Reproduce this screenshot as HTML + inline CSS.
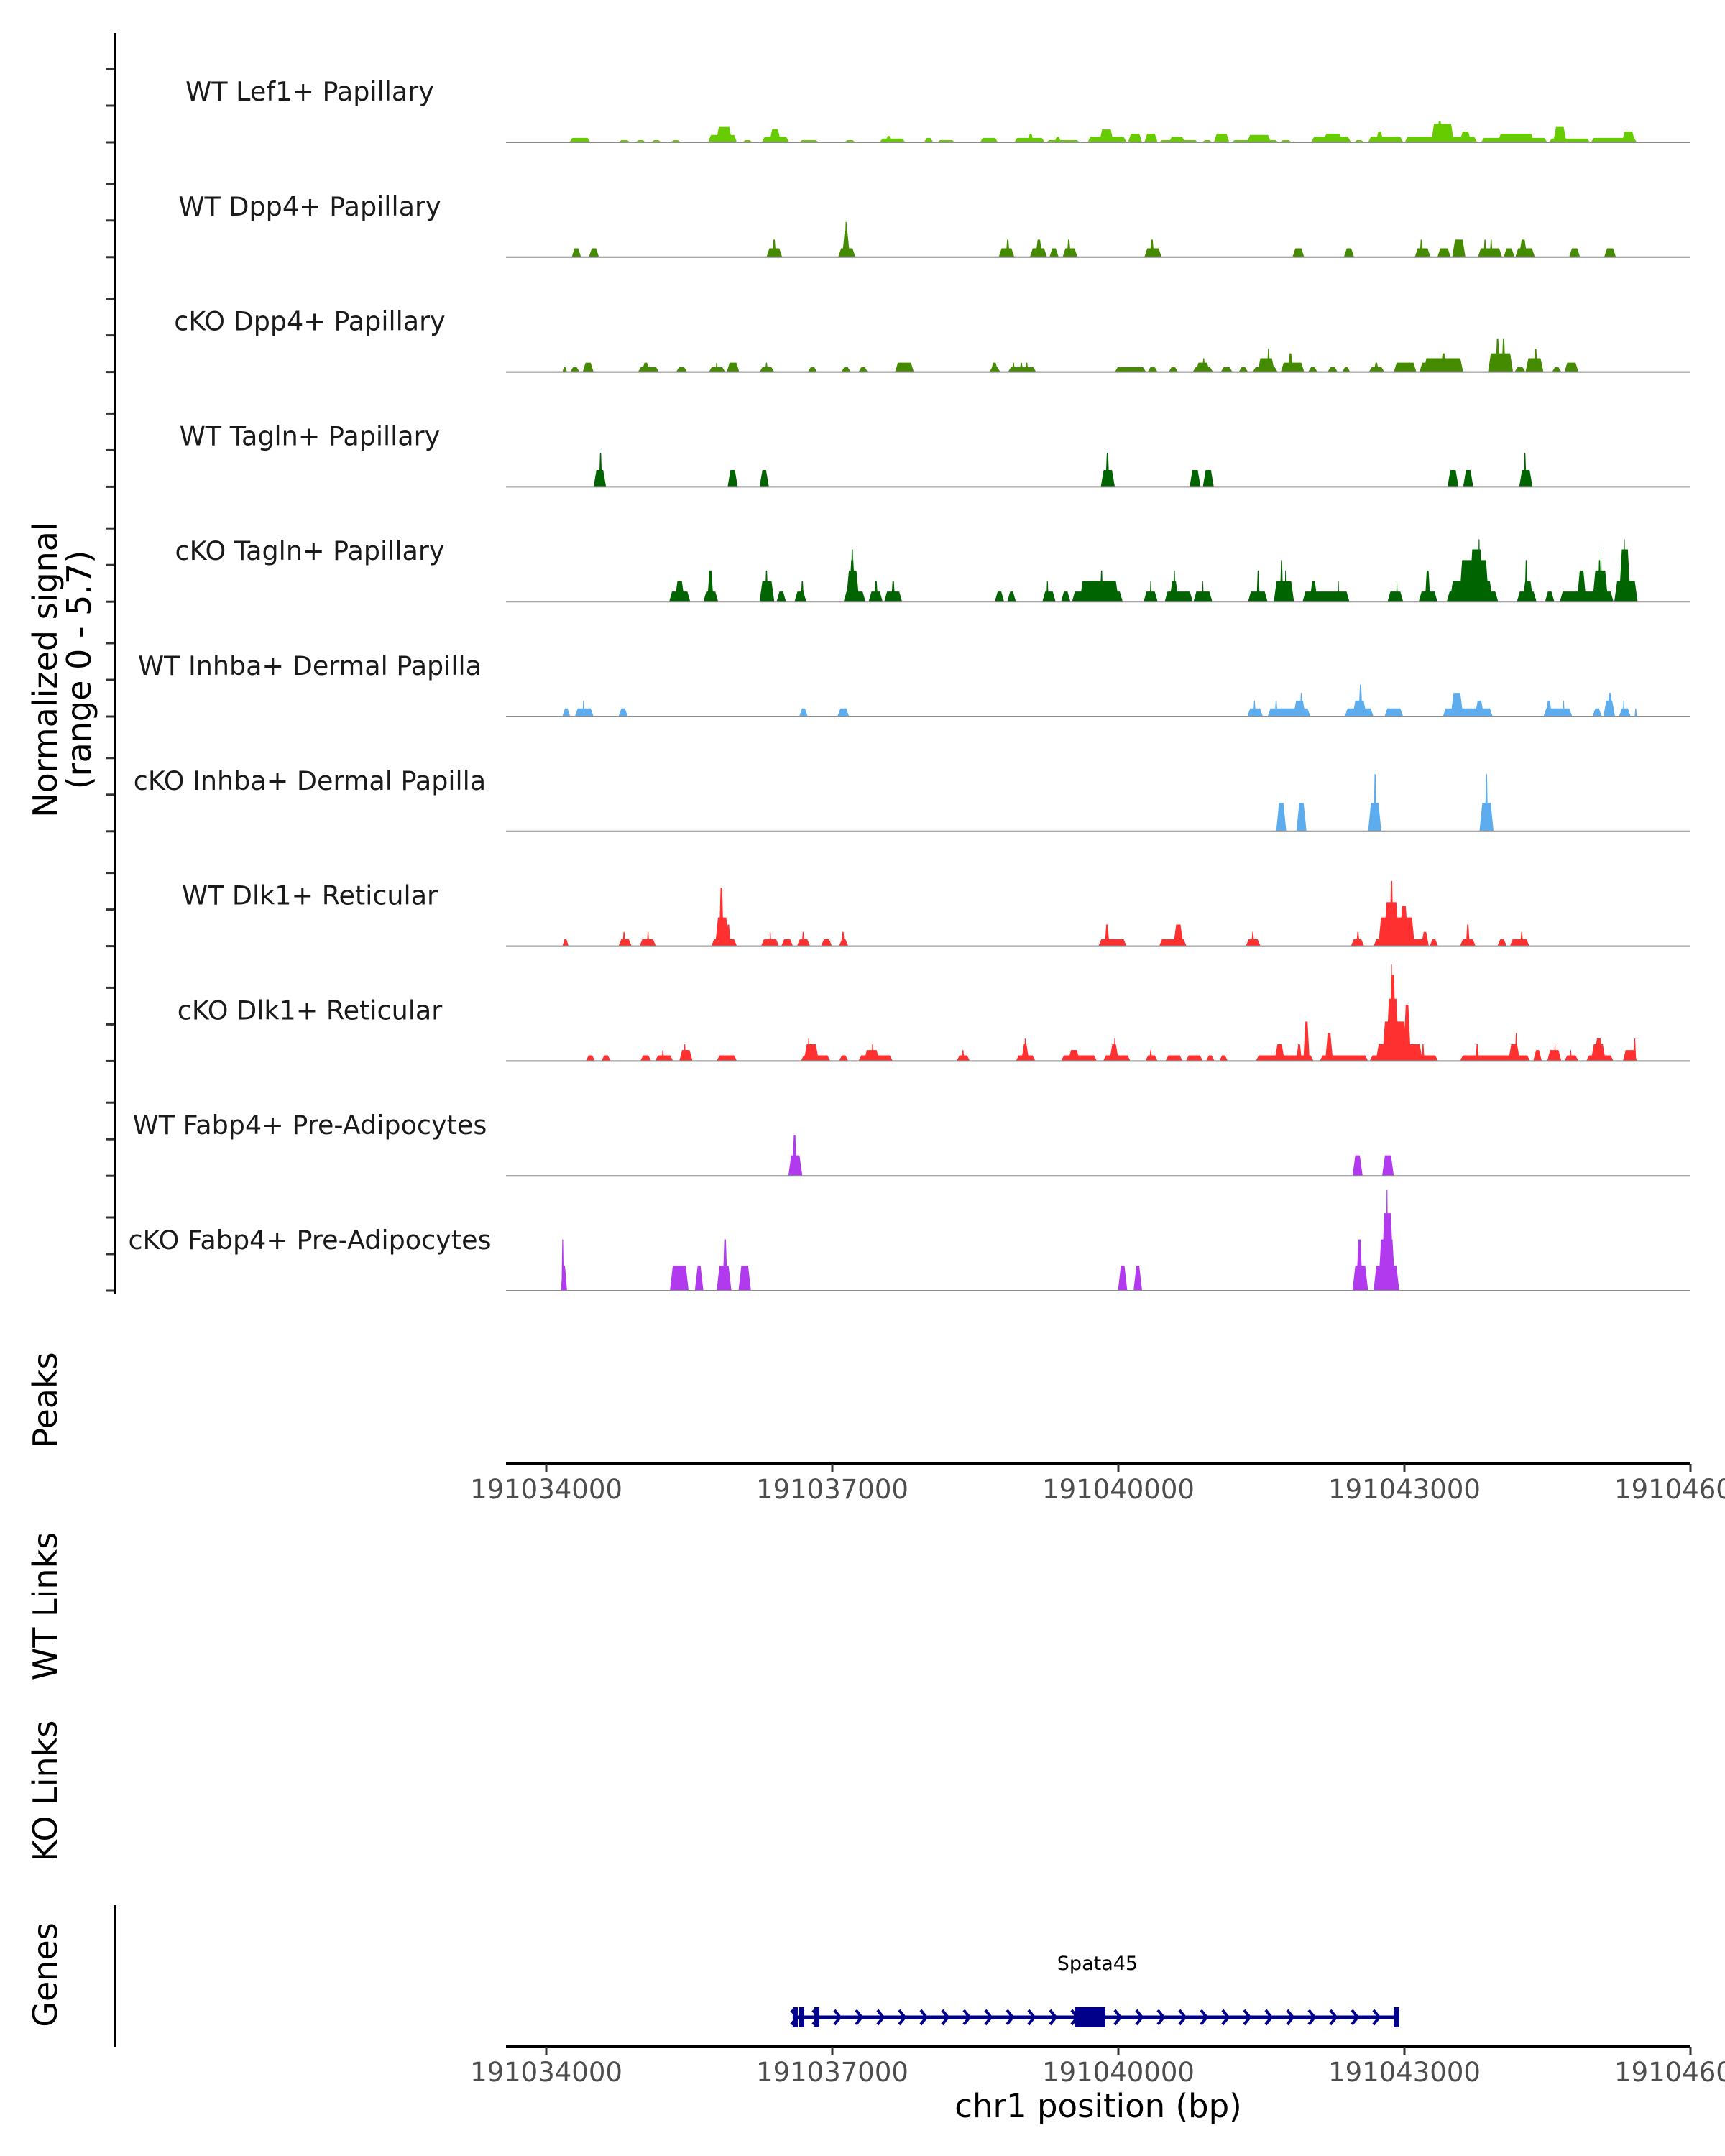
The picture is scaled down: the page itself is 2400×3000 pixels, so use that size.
<!DOCTYPE html>
<html><head><meta charset="utf-8"><style>
html,body{margin:0;padding:0;background:#fff;}
svg{display:block;font-family:"DejaVu Sans","Liberation Sans",sans-serif;}
</style></head><body>
<svg id="chart" xmlns="http://www.w3.org/2000/svg" width="2400" height="3000" viewBox="0 0 2400 3000">
<rect width="2400" height="3000" fill="#fff"/>
<g id="tracks"></g>
<g id="leftaxis"></g>
<text transform="translate(79,932) rotate(-90)" text-anchor="middle" font-size="46" fill="#000">Normalized signal</text>
<text transform="translate(126,932) rotate(-90)" text-anchor="middle" font-size="46" fill="#000">(range 0 - 5.7)</text>
<text transform="translate(79,1948) rotate(-90)" text-anchor="middle" font-size="46" fill="#000">Peaks</text>
<text transform="translate(79,2235) rotate(-90)" text-anchor="middle" font-size="46" fill="#000">WT Links</text>
<text transform="translate(79,2492) rotate(-90)" text-anchor="middle" font-size="46" fill="#000">KO Links</text>
<text transform="translate(79,2748) rotate(-90)" text-anchor="middle" font-size="46" fill="#000">Genes</text>
<line x1="160" y1="2651" x2="160" y2="2848" stroke="#000" stroke-width="4"/>
<g id="xaxis1"></g>
<g id="xaxis2"></g>
<g id="gene"></g>
<text x="1528" y="2946" text-anchor="middle" font-size="45" fill="#000">chr1 position (bp)</text>
</svg>
<script>
// Data: blocks [startOffsetBp, endOffsetBp, signal] relative to chromStart
const chromStart = 191034000;
const trackNames = ["WT Lef1+ Papillary","WT Dpp4+ Papillary","cKO Dpp4+ Papillary","WT Tagln+ Papillary","cKO Tagln+ Papillary","WT Inhba+ Dermal Papilla","cKO Inhba+ Dermal Papilla","WT Dlk1+ Reticular","cKO Dlk1+ Reticular","WT Fabp4+ Pre-Adipocytes","cKO Fabp4+ Pre-Adipocytes"];
const trackColors = ["#66CC00","#458B00","#458B00","#006400","#006400","#5CACEE","#5CACEE","#FF3030","#FF3030","#B23AEE","#B23AEE"];
const xTicks = [191034000,191037000,191040000,191043000,191046000];
const xTickLabels = ["191034000","191037000","191040000","191043000","191046000"];
const wtLef1 = [[243,463,0.24],[757,880,0.12],[937,1043,0.12],[1101,1207,0.12],[1305,1411,0.12],[1697,2000,0.4],[1780,1950,0.84],[2057,2163,0.12],[2261,2547,0.3],[2340,2460,0.72],[2653,2858,0.12],[3127,3242,0.12],[3495,3765,0.2],[3560,3620,0.35],[3961,4059,0.24],[4100,4288,0.12],[4549,4737,0.24],[4909,5228,0.24],[5050,5110,0.47],[5244,5595,0.12],[5330,5400,0.3],[5677,6086,0.3],[5800,5950,0.7],[6102,6249,0.47],[6273,6412,0.47],[6428,6837,0.12],[6530,6700,0.3],[6878,6985,0.12],[7001,7164,0.47],[7189,7679,0.12],[7350,7600,0.4],[7695,7818,0.12],[8022,8439,0.3],[8150,8350,0.47],[8472,8578,0.12],[8619,8987,0.3],[8700,8780,0.59],[9003,9763,0.3],[9280,9520,1.0],[9340,9400,1.17],[9580,9700,0.59],[9804,10498,0.24],[9980,10360,0.47],[10515,10948,0.2],[10560,10700,0.84],[10956,11438,0.24],[11280,11420,0.59]];
const wtDpp4 = [[267,365,0.48],[447,553,0.48],[2310,2474,0.48],[2370,2410,0.96],[3062,3242,0.48],[3103,3185,1.43],[3130,3160,1.92],[4745,4909,0.48],[4820,4860,0.96],[5072,5252,0.48],[5130,5203,0.96],[5277,5374,0.48],[5415,5571,0.48],[5460,5500,0.96],[6273,6453,0.48],[6330,6375,0.96],[7826,7949,0.48],[8365,8472,0.48],[9109,9273,0.48],[9160,9195,0.96],[9346,9485,0.48],[9501,9640,0.96],[9771,10024,0.48],[9830,9860,0.96],[9895,9925,0.96],[10041,10155,0.48],[10163,10368,0.48],[10200,10290,0.96],[10727,10842,0.48],[11095,11218,0.48]];
const ckoDpp4 = [[169,218,0.26],[251,349,0.26],[382,496,0.51],[962,1182,0.26],[1003,1084,0.51],[1362,1477,0.26],[1705,1877,0.26],[1775,1800,0.51],[1893,2024,0.51],[2237,2392,0.26],[2295,2325,0.51],[2743,2841,0.26],[3095,3193,0.26],[3274,3372,0.26],[3658,3855,0.51],[4647,4762,0.26],[4660,4740,0.51],[4843,5138,0.26],[4885,4915,0.51],[4965,5000,0.51],[5025,5055,0.51],[5963,6290,0.26],[6306,6412,0.26],[6527,6625,0.26],[6780,6993,0.26],[6810,6960,0.51],[6880,6910,0.75],[7074,7197,0.26],[7262,7360,0.26],[7409,7671,0.26],[7460,7640,0.75],[7560,7590,1.28],[7704,7949,0.51],[7780,7830,1.02],[7990,8088,0.26],[8194,8300,0.26],[8349,8431,0.26],[8627,8790,0.26],[8680,8730,0.51],[8889,9125,0.51],[9158,9354,0.51],[9200,9616,0.75],[9380,9440,1.02],[9877,10139,1.02],[9955,10000,1.8],[10020,10060,1.8],[10155,10270,0.26],[10270,10458,0.75],[10360,10395,1.28],[10548,10646,0.26],[10678,10825,0.51]];
const wtTagln = [[496,627,0.92],[553,586,1.85],[1902,2008,0.92],[2237,2335,0.92],[5816,5963,0.92],[5865,5906,1.85],[6747,6862,0.92],[6886,7001,0.92],[9452,9567,0.92],[9616,9722,0.92],[10204,10343,0.92],[10245,10280,1.85]];
const ckoTagln = [[1289,1510,0.55],[1346,1452,1.13],[1648,1803,0.55],[1689,1754,1.7],[2237,2392,1.13],[2294,2326,1.7],[2416,2514,0.55],[2604,2727,0.55],[2669,2702,1.13],[3119,3348,0.55],[3144,3283,1.7],[3176,3242,2.27],[3193,3226,2.85],[3381,3528,0.55],[3438,3479,1.13],[3544,3732,0.55],[3618,3659,1.13],[4704,4802,0.55],[4835,4925,0.55],[5203,5342,0.55],[5244,5268,1.13],[5399,5497,0.55],[5514,6045,0.55],[5595,6004,1.13],[5808,5840,1.7],[6265,6412,0.55],[6330,6347,1.13],[6486,6780,0.55],[6535,6633,1.13],[6576,6600,1.7],[6788,6985,0.55],[6878,6895,1.13],[7360,7565,0.55],[7450,7483,1.7],[7630,7842,1.13],[7695,7728,2.27],[7745,7761,1.7],[7932,8423,0.55],[8006,8088,1.13],[8300,8316,1.13],[8823,8987,0.55],[8913,8930,1.13],[9150,9346,0.55],[9215,9272,1.7],[9444,9983,0.55],[9477,9926,1.13],[9575,9886,2.27],[9681,9828,2.85],[9771,9795,3.4],[10180,10385,0.55],[10237,10352,1.13],[10262,10294,2.27],[10475,10572,0.55],[10630,11193,0.55],[10809,10907,1.7],[10972,11136,1.7],[11030,11063,2.27],[11054,11070,2.85],[11201,11446,1.13],[11250,11373,2.85],[11299,11316,3.4]];
const wtInhba = [[169,251,0.44],[300,496,0.44],[380,400,0.87],[757,855,0.44],[2653,2743,0.44],[3054,3176,0.44],[7352,7516,0.44],[7415,7440,0.87],[7565,8014,0.44],[7640,7670,0.87],[7834,7965,0.87],[7905,7930,1.29],[8374,8676,0.44],[8455,8603,0.87],[8520,8560,1.74],[8791,8987,0.44],[9403,9926,0.44],[9485,9616,1.29],[9738,9836,0.87],[10458,10760,0.44],[10482,10548,0.87],[10660,10680,0.87],[10972,11070,0.44],[11087,11209,0.87],[11128,11185,1.29],[11250,11373,0.44],[11290,11310,0.87],[11414,11438,0.44]];
const ckoInhba = [[7655,7761,1.55],[7867,7973,1.55],[8619,8758,1.55],[8676,8709,3.12],[9787,9935,1.55],[9845,9877,3.12]];
const wtDlk1 = [[169,234,0.38],[757,896,0.38],[800,830,0.78],[978,1150,0.38],[1055,1080,0.78],[1730,2000,0.38],[1771,1918,1.57],[1812,1861,3.2],[1885,1934,1.18],[2253,2441,0.38],[2340,2360,0.78],[2465,2588,0.38],[2629,2768,0.38],[2680,2710,0.78],[2882,2997,0.38],[3070,3168,0.38],[3095,3130,0.78],[5791,6086,0.38],[5857,5906,1.18],[6428,6715,0.38],[6576,6682,1.18],[7336,7491,0.38],[7395,7425,0.78],[8439,8578,0.38],[8495,8530,0.78],[8676,9256,0.38],[8725,9109,1.57],[8782,8946,2.4],[8845,8885,3.56],[8946,9044,2.2],[9175,9256,0.78],[9264,9354,0.38],[9583,9747,0.38],[9645,9685,1.18],[9975,10073,0.38],[10106,10311,0.38],[10215,10245,0.78]];
const ckoDlk1 = [[414,512,0.31],[578,676,0.31],[986,1101,0.31],[1142,1330,0.31],[1210,1235,0.6],[1395,1534,0.6],[1440,1465,0.92],[1787,2000,0.31],[2670,2980,0.31],[2702,2858,0.92],[2740,2765,1.23],[3070,3168,0.31],[3274,3634,0.31],[3332,3495,0.6],[3410,3435,0.92],[4304,4443,0.31],[4355,4385,0.6],[4925,5130,0.31],[4982,5064,0.92],[5010,5035,1.23],[5399,5775,0.31],[5473,5595,0.6],[5840,6127,0.31],[5906,6004,0.92],[5950,5975,1.23],[6282,6412,0.31],[6325,6355,0.6],[6494,6674,0.31],[6707,6886,0.31],[6919,7009,0.31],[7058,7148,0.31],[7442,8047,0.31],[7638,7744,0.92],[7867,7924,0.92],[7940,8006,2.16],[8112,8619,0.31],[8169,8251,1.53],[8635,9354,0.31],[8700,9191,0.92],[8766,9028,2.16],[8807,8946,3.4],[8848,8913,4.7],[8855,8875,5.27],[8987,9068,3.07],[9180,9210,0.92],[9583,10319,0.31],[9747,9779,0.92],[10090,10212,0.92],[10160,10185,1.53],[10351,10441,0.6],[10498,10646,0.6],[10570,10590,0.92],[10678,10825,0.31],[10735,10755,0.6],[10907,11193,0.31],[10956,11111,0.92],[10989,11087,1.23],[11291,11438,0.6],[11400,11430,1.23]];
const wtFabp4 = [[2539,2686,1.12],[2580,2629,2.24],[8455,8562,1.12],[8766,8889,1.12]];
const ckoFabp4 = [[153,218,1.37],[160,185,2.8],[1297,1493,1.37],[1558,1648,1.37],[1787,1942,1.37],[1850,1901,2.8],[2016,2147,1.37],[5996,6094,1.37],[6159,6249,1.37],[8455,8619,1.37],[8495,8562,2.8],[8676,8946,1.37],[8725,8905,2.8],[8758,8889,4.23],[8805,8830,5.5]];
const trackData = [wtLef1,wtDpp4,ckoDpp4,wtTagln,ckoTagln,wtInhba,ckoInhba,wtDlk1,ckoDlk1,wtFabp4,ckoFabp4];
const geneExons = [[2585,2610],[2653,2706],[2812,2864],[5548,5864],[8887,8947]];
const geneSpan = [2585,8947];

const NS = "http://www.w3.org/2000/svg";
const X0 = 704, X1 = 2352;
const xOf = bp => 760 + (bp - chromStart) / 7.5377;
const xOff = off => xOf(chromStart + off);
const PX_PER_UNIT = 25.5;
const baseY = i => 198 + 159.8 * i;
function mk(tag, attrs, parent){ const e=document.createElementNS(NS,tag); for(const k in attrs) e.setAttribute(k,attrs[k]); parent.appendChild(e); return e; }

const tracksG = document.getElementById('tracks');
const axisG = document.getElementById('leftaxis');
trackData.forEach((blocks, i) => {
  const g = mk('g', {}, tracksG);
  
  
  const by = baseY(i);
  blocks.forEach(b => {
    const xs = xOff(b[0]), xe = xOff(b[1]);
    const h = b[2] * PX_PER_UNIT;
    const r = Math.min(4, (xe - xs) / 3);
    const p = mk('polygon', {points: `${xs},${by} ${xs+r},${by-h} ${xe-r},${by-h} ${xe},${by}`, fill: trackColors[i]}, g);
    
    
  });
  const bl = mk('line', {x1: X0, x2: X1, y1: by, y2: by, stroke: '#8c8c8c', 'stroke-width': 2}, g);
  
  
  const t = mk('text', {x: 431, y: by - 58, 'text-anchor': 'middle', 'font-size': 36.5, fill: '#1a1a1a'}, g);
  t.textContent = trackNames[i];
  
  
  [0, 51, 102].forEach(d => {
    const tk = mk('line', {x1: 147, x2: 160, y1: by - d, y2: by - d, stroke: '#333', 'stroke-width': 3}, axisG);
    
    
  });
});
const al = mk('line', {x1: 160, x2: 160, y1: 46, y2: 1800, stroke: '#000', 'stroke-width': 4}, axisG);



function xAxis(gid, y){
  const g = document.getElementById(gid);
  const l = mk('line', {x1: X0, x2: X1, y1: y, y2: y, stroke: '#000', 'stroke-width': 4}, g);
  
  
  xTicks.forEach((v, k) => {
    const x = xOf(v);
    const tk = mk('line', {x1: x, x2: x, y1: y, y2: y + 11, stroke: '#333', 'stroke-width': 3}, g);
    
    
    const t = mk('text', {x: x, y: y + 48, 'text-anchor': 'middle', 'font-size': 37, fill: '#4d4d4d'}, g);
    t.textContent = xTickLabels[k];
    
    
  });
}
xAxis('xaxis1', 2037);
xAxis('xaxis2', 2848);

// gene model
const gg = document.getElementById('gene');
const gy = 2807;
const gx0 = xOff(geneSpan[0]), gx1 = xOff(geneSpan[1]);
const gl = mk('line', {x1: gx0, x2: gx1, y1: gy, y2: gy, stroke: '#00008B', 'stroke-width': 5}, gg);


for (let x = gx0 + 2; x < gx1 - 6; x += 30) {
  const a = mk('path', {d: `M${x-4},${gy-10} L${x+4},${gy} L${x-4},${gy+10}`, fill: 'none', stroke: '#00008B', 'stroke-width': 4}, gg);
  
  
}
geneExons.forEach(e => {
  const xs = xOff(e[0]), xe = xOff(e[1]);
  const w = Math.max(xe - xs, 7);
  const r = mk('rect', {x: xs, y: gy - 14, width: w, height: 28, fill: '#00008B'}, gg);
  
  
});
const gt = mk('text', {x: (gx0 + gx1) / 2 + 2, y: 2741, 'text-anchor': 'middle', 'font-size': 27, fill: '#000'}, gg);
gt.textContent = 'Spata45';


</script>
</body></html>
